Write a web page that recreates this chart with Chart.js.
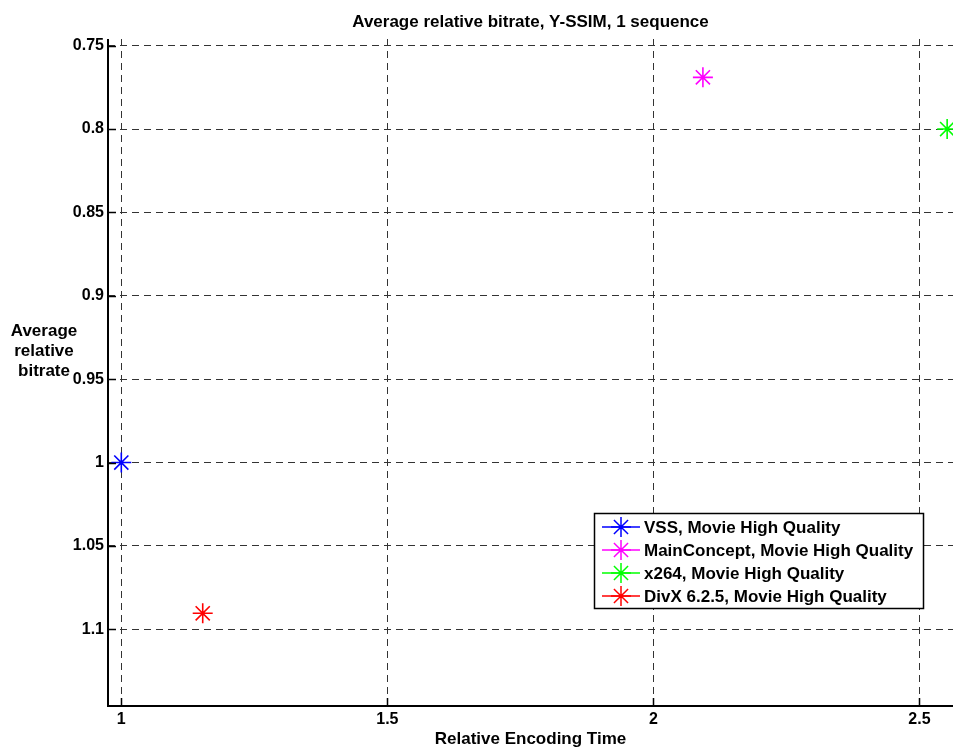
<!DOCTYPE html>
<html lang="en">
<head>
<meta charset="UTF-8">
<title>Average relative bitrate, Y-SSIM</title>
<script src="https://cdn.jsdelivr.net/npm/chart.js"></script>
<style>
  html, body { margin: 0; padding: 0; background: #ffffff; }
  #wrap { width: 953px; height: 747px; }
</style>
</head>
<body>
<div id="wrap"><canvas id="chart" width="953" height="747"></canvas></div>
<script>
  // data
  const codecs = ['VSS, Movie High Quality', 'MainConcept, Movie High Quality', 'x264, Movie High Quality', 'DivX 6.2.5, Movie High Quality'];
  const encodingTime = [1.0, 2.093, 2.552, 1.153];
  const relBitrate = [1.0, 0.769, 0.800, 1.0904];
  const colors = ['#0000ff', '#ff00ff', '#00ff00', '#ff0000'];

  const xTicks = [1, 1.5, 2, 2.5];
  const xTickLabels = ['1', '1.5', '2', '2.5'];
  const yTicks = [0.75, 0.8, 0.85, 0.9, 0.95, 1, 1.05, 1.1];
  const yTickLabels = ['0.75', '0.8', '0.85', '0.9', '0.95', '1', '1.05', '1.1'];

  const FONT = 'Liberation Sans, Arial, Helvetica, sans-serif';

  function drawStar(ctx, x, y, r) {
    const d = r * Math.SQRT1_2;
    ctx.beginPath();
    ctx.moveTo(x - r, y); ctx.lineTo(x + r, y);
    ctx.moveTo(x, y - r); ctx.lineTo(x, y + r);
    ctx.moveTo(x - d, y - d); ctx.lineTo(x + d, y + d);
    ctx.moveTo(x - d, y + d); ctx.lineTo(x + d, y - d);
    ctx.stroke();
  }

  const matlabLook = {
    id: 'matlabLook',
    afterDraw(chart) {
      const ctx = chart.ctx;
      const a = chart.chartArea;
      const xs = chart.scales.x, ys = chart.scales.y;
      ctx.save();

      // axes lines (left + bottom only)
      ctx.strokeStyle = '#000';
      ctx.lineWidth = 2;
      ctx.beginPath();
      ctx.moveTo(a.left, a.top);
      ctx.lineTo(a.left, a.bottom);
      ctx.lineTo(a.right, a.bottom);
      ctx.stroke();

      // inward tick marks
      ctx.lineWidth = 1.5;
      ctx.beginPath();
      yTicks.forEach(v => {
        const py = Math.round(ys.getPixelForValue(v)) + 0.5;
        ctx.moveTo(a.left, py); ctx.lineTo(a.left + 8, py);
      });
      xTicks.forEach(v => {
        const px = Math.round(xs.getPixelForValue(v)) + 0.5;
        ctx.moveTo(px, a.bottom); ctx.lineTo(px, a.bottom - 8);
      });
      ctx.stroke();

      // titles
      ctx.fillStyle = '#000';
      ctx.font = 'bold 17px ' + FONT;
      ctx.textAlign = 'center';
      ctx.textBaseline = 'middle';
      const cx = (a.left + a.right) / 2;
      ctx.fillText('Average relative bitrate, Y-SSIM, 1 sequence', cx, 22);
      ctx.fillText('Relative Encoding Time', cx, 739);
      ctx.fillText('Average', 44, 331);
      ctx.fillText('relative', 44, 351);
      ctx.fillText('bitrate', 44, 371);

      // legend
      const lx = 594, ly = 513, lw = 329, lh = 95;
      ctx.fillStyle = '#fff';
      ctx.fillRect(lx, ly, lw, lh);
      ctx.strokeStyle = '#000';
      ctx.lineWidth = 1.5;
      ctx.strokeRect(lx + 0.5, ly + 0.5, lw, lh);
      ctx.textAlign = 'left';
      codecs.forEach((name, i) => {
        const yy = 527 + i * 23;
        ctx.strokeStyle = colors[i];
        ctx.lineWidth = 1.5;
        ctx.beginPath();
        ctx.moveTo(602, yy); ctx.lineTo(640, yy);
        ctx.stroke();
        drawStar(ctx, 621, yy, 10);
        ctx.fillStyle = '#000';
        ctx.fillText(name, 644, yy + 1);
      });
      ctx.restore();
    }
  };

  const datasets = codecs.map((name, i) => ({
    label: name,
    data: [{ x: encodingTime[i], y: relBitrate[i] }],
    pointStyle: 'star',
    pointRadius: 10,
    pointHoverRadius: 10,
    borderColor: colors[i],
    backgroundColor: colors[i],
    pointBorderWidth: 1.6,
    showLine: false,
    clip: false
  }));

  new Chart(document.getElementById('chart'), {
    type: 'scatter',
    data: { datasets: datasets },
    options: {
      responsive: false,
      animation: false,
      events: [],
      layout: { autoPadding: false, padding: { top: 39, right: 0, left: 0, bottom: 0 } },
      plugins: { legend: { display: false }, title: { display: false }, tooltip: { enabled: false } },
      scales: {
        x: {
          type: 'linear',
          min: 0.975,
          max: 2.563,
          afterBuildTicks: s => { s.ticks = xTicks.map(v => ({ value: v })); },
          afterFit: s => { s.height = 41; s.paddingLeft = 0; s.paddingRight = 0; },
          ticks: {
            color: '#000',
            font: { family: FONT, size: 16, weight: 'bold' },
            padding: 4,
            maxRotation: 0,
            autoSkip: false,
            callback: (v, i) => xTickLabels[i]
          },
          grid: { color: '#333', lineWidth: 1, drawTicks: false },
          border: { display: false, dash: [7, 5] }
        },
        y: {
          type: 'linear',
          reverse: true,
          min: 0.746,
          max: 1.146,
          afterBuildTicks: s => { s.ticks = yTicks.map(v => ({ value: v })); },
          afterFit: s => { s.width = 108; s.paddingTop = 0; s.paddingBottom = 0; },
          ticks: {
            color: '#000',
            font: { family: FONT, size: 16, weight: 'bold' },
            padding: 4,
            autoSkip: false,
            callback: (v, i) => yTickLabels[i]
          },
          grid: { color: '#333', lineWidth: 1, drawTicks: false },
          border: { display: false, dash: [7, 5] }
        }
      }
    },
    plugins: [matlabLook]
  });
</script>
</body>
</html>
